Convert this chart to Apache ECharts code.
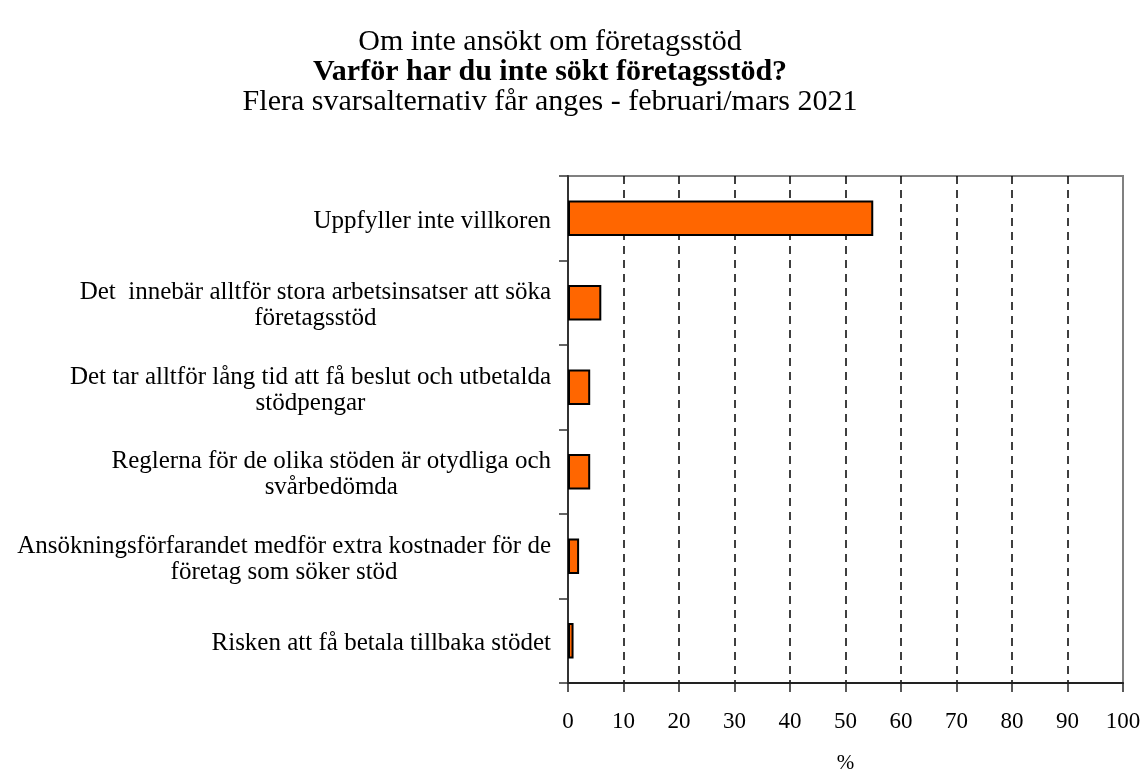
<!DOCTYPE html>
<html>
<head>
<meta charset="utf-8">
<script src="https://cdn.jsdelivr.net/npm/echarts@6/dist/echarts.min.js"></script>
<style>
  html, body { margin: 0; padding: 0; background: #fff; }
  #chart { width: 1144px; height: 769px; }
</style>
</head>
<body>
<div id="chart"></div>
<script>
// svarsalternativ, uppifrån och ner
var categories = [
  'Uppfyller inte villkoren',
  'Det  innebär alltför stora arbetsinsatser att söka\nföretagsstöd',
  'Det tar alltför lång tid att få beslut och utbetalda\nstödpengar',
  'Reglerna för de olika stöden är otydliga och\nsvårbedömda',
  'Ansökningsförfarandet medför extra kostnader för de\nföretag som söker stöd',
  'Risken att få betala tillbaka stödet'
];
var values = [55, 6, 4, 4, 2, 1];
var xTicks = [0, 10, 20, 30, 40, 50, 60, 70, 80, 90, 100];

var titleLines = [
  'Om inte ansökt om företagsstöd',
  'Varför har du inte sökt företagsstöd?',
  'Flera svarsalternativ får anges - februari/mars 2021'
];

var serif = '"Liberation Serif", "Times New Roman", serif';

var chart = echarts.init(document.getElementById('chart'), null, {renderer: 'canvas'});

// gridlinjer: ingen vid 0, grå vid 100 (ramen)
var splitColors = xTicks.map(function (t, i) {
  if (i === 0) return 'rgba(0,0,0,0)';
  if (i === xTicks.length - 1) return '#808080';
  return '#000';
});

var titleStyle = function (bold) {
  return {fontFamily: serif, fontSize: 30, fontWeight: bold ? 'bold' : 'normal', color: '#000', lineHeight: 30};
};

var option = {
  backgroundColor: '#fff',
  animation: false,
  title: [
    {text: titleLines[0], left: 550, textAlign: 'center', top: 27, padding: 0, textStyle: titleStyle(false)},
    {text: titleLines[1], left: 550, textAlign: 'center', top: 57, padding: 0, textStyle: titleStyle(true)},
    {text: titleLines[2], left: 550, textAlign: 'center', top: 87, padding: 0, textStyle: titleStyle(false)}
  ],
  grid: {
    left: 568, right: 21, top: 176, bottom: 86,
    outerBoundsMode: 'none',
    containLabel: false,
    show: true, borderColor: '#808080', borderWidth: 2
  },
  xAxis: {
    type: 'value',
    min: 0, max: 100, interval: 10,
    name: '%',
    nameLocation: 'middle',
    nameGap: 70,
    nameTextStyle: {fontFamily: serif, fontSize: 21, color: '#000'},
    axisLine: {show: true, lineStyle: {color: '#222', width: 2}},
    axisTick: {show: true, inside: false, length: 9, lineStyle: {color: '#222', width: 1.5}},
    axisLabel: {fontFamily: serif, fontSize: 23, color: '#000', margin: 27},
    splitLine: {show: true, lineStyle: {color: splitColors, width: 1.5, type: [8, 6]}}
  },
  yAxis: {
    type: 'category',
    inverse: true,
    data: categories,
    axisLine: {show: true, lineStyle: {color: '#333', width: 2}},
    axisTick: {show: true, inside: false, length: 9, lineStyle: {color: '#333', width: 1.5}},
    axisLabel: {
      margin: 17,
      padding: [6, 0, 0, 0],
      formatter: function (v) {
        return v.split('\n').map(function (l) { return '{c|' + l + '}'; }).join('\n');
      },
      rich: {
        c: {fontFamily: serif, fontSize: 25, color: '#000', align: 'center', lineHeight: 26}
      }
    },
    splitLine: {show: false}
  },
  series: [{
    type: 'bar',
    data: values,
    barCategoryGap: '58%',
    itemStyle: {color: '#FF6600', borderColor: '#000', borderWidth: 2}
  }]
};

chart.setOption(option);
</script>
</body>
</html>
